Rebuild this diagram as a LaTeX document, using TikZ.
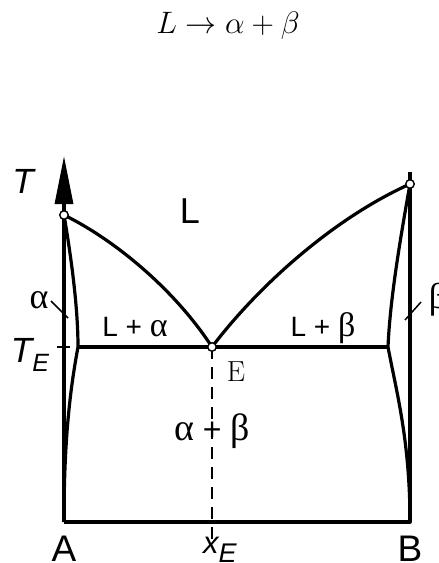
\documentclass[tikz,border=0pt]{standalone}
\usepackage{fontspec}
\newfontfamily\lsans{Liberation Sans}
\newfontfamily\lserif{Liberation Serif}
\usetikzlibrary{arrows.meta}
\begin{document}
\begin{tikzpicture}[x=1pt,y=-1pt,
  line/.style={line width=3.2pt, line join=round},
  thinline/.style={line width=1.5pt},
  dot/.style={circle, draw, fill=white, line width=1.4pt, minimum size=8.5pt, inner sep=0pt},
  txt/.style={anchor=base, inner sep=0pt}]
\useasboundingbox (0,0) rectangle (439,563);
% coordinates
\coordinate (A0) at (64,522);
\coordinate (B0) at (410,522);
\coordinate (pTA) at (64,215);
\coordinate (pTB) at (410,184);
\coordinate (pE) at (212,347);
\coordinate (SA) at (78,347);
\coordinate (SB) at (388,347);
\coordinate (tip) at (64,156);
\coordinate (BTop) at (410,172);
\coordinate (xEend) at (212,542);
\coordinate (tickL) at (57,347);
\coordinate (tickR) at (70,347);
\coordinate (la1) at (51,301);
\coordinate (la2) at (68,318);
\coordinate (lb1) at (405,320);
\coordinate (lb2) at (421,302);
% dashed composition line
\draw[line width=1.4pt, dash pattern=on 12pt off 8pt] (pE) -- (xEend);
% axes
\draw[line, -{Triangle[length=48pt,width=18pt]}] (A0) -- (tip);
\draw[line] (A0) -- (B0) -- (BTop);
% liquidus
\draw[line] (pTA) .. controls (115,240) and (175,290) .. (pE)
            .. controls (255,290) and (330,220) .. (pTB);
% solidus and solvus
\draw[line] (pTA) .. controls (72,262) and (78,310) .. (SA)
            .. controls (70,390) and (64,440) .. (A0);
\draw[line] (pTB) .. controls (400,240) and (390,300) .. (SB)
            .. controls (396,390) and (410,440) .. (B0);
\draw[line] (SA) -- (SB);
% tick and leaders
\draw[thinline] (tickL) -- (tickR);
\draw[thinline] (la1) -- (la2);
\draw[thinline] (lb1) -- (lb2);
% points
\node[dot] (TA) at (pTA) {};
\node[dot] (TB) at (pTB) {};
\node[dot] (E) at (pE) {};
% texts
\node[txt, scale=1.246, font=\fontsize{24.88}{30}\selectfont] (title) at (228,33) {$L\rightarrow\alpha+\beta$};
\node[txt, font=\lsans\itshape\fontsize{35}{40}\selectfont] (T) at (23,193) {T};
\node[txt, font=\lsans\fontsize{36}{40}\selectfont] (L) at (190,223) {L};
\node[txt, font=\lserif\fontsize{36}{40}\selectfont] (al) at (39,308) {α};
\node[txt, font=\lserif\fontsize{36}{40}\selectfont] (be) at (438,308) {β};
\node[txt, font=\lsans\fontsize{28}{32}\selectfont] (La) at (135,336) {L + {\lserif\fontsize{34}{38}\selectfont α}};
\node[txt, font=\lsans\fontsize{28}{32}\selectfont] (Lb) at (323,336) {L + {\lserif\fontsize{34}{38}\selectfont β}};
\node[txt, font=\lsans\itshape\fontsize{35}{40}\selectfont] (TE) at (30,362) {T\raisebox{-9pt}{\fontsize{25}{28}\selectfont E}};
\node[txt, font=\fontsize{29}{34}\selectfont] (Elab) at (236,381) {E};
\node[txt, font=\lsans\fontsize{32}{36}\selectfont] (ab) at (212,440) {{\lserif\fontsize{38}{42}\selectfont α} + {\lserif\fontsize{38}{42}\selectfont β}};
\node[txt, font=\lsans\fontsize{37}{40}\selectfont] (A) at (64,561) {A};
\node[txt, font=\lsans\fontsize{37}{40}\selectfont] (B) at (410,561) {B};
\node[txt, font=\lsans\itshape\fontsize{31}{34}\selectfont] (xE) at (220,553) {x\raisebox{-9pt}{\fontsize{27}{30}\selectfont E}};
\end{tikzpicture}
\end{document}
